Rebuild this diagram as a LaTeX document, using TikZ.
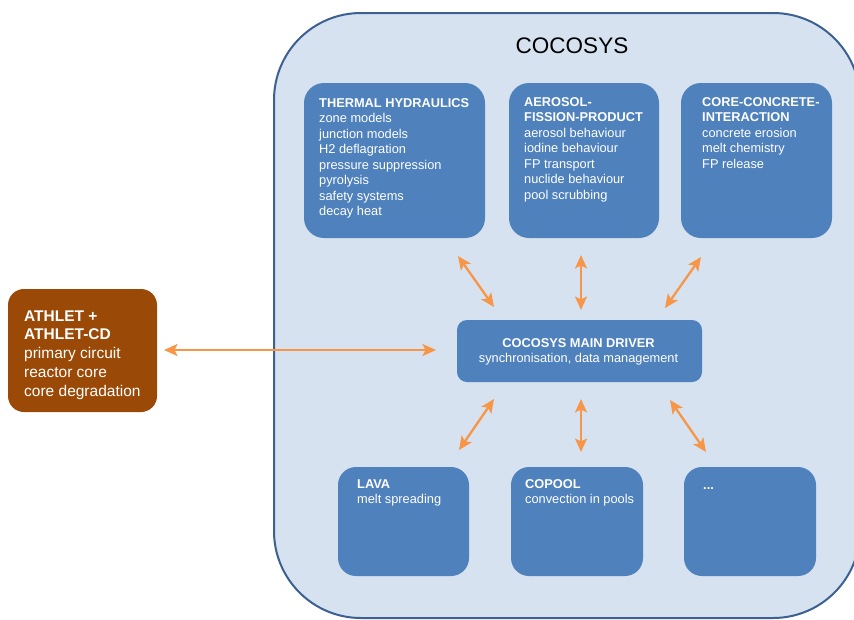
\documentclass[tikz,border=0pt]{standalone}
\usepackage{fontspec}
\setmainfont{Liberation Sans}
\usetikzlibrary{arrows.meta}
\definecolor{bigfill}{RGB}{214,226,240}
\definecolor{bigborder}{RGB}{60,96,146}
\definecolor{boxblue}{RGB}{79,129,189}
\definecolor{athbrown}{RGB}{155,73,6}
\definecolor{arroworange}{RGB}{247,150,70}
\newcommand{\bodyfont}{\fontsize{12.8}{15.5}\selectfont}
\newcommand{\athfont}{\fontsize{15.5}{18.8}\selectfont}
\newcommand{\lines}[1]{\begin{tabular}[t]{@{}l@{}}#1\end{tabular}}
\begin{document}
\begin{tikzpicture}[x=1pt,y=-1pt,
  bigbox/.style={draw=bigborder, line width=2pt, fill=bigfill, rounded corners=87pt, inner sep=0pt},
  bluebox/.style={fill=boxblue, draw=none, rounded corners=20pt, inner sep=0pt},
  athbox/.style={fill=athbrown, draw=none, rounded corners=16pt, inner sep=0pt},
  boxtext/.style={anchor=base west, inner sep=0pt, text=white, font=\bodyfont},
  link/.style={draw=arroworange, line width=2.3pt,
    {Stealth[length=13.5pt,width=12pt,inset=3pt]}-{Stealth[length=13.5pt,width=12pt,inset=3pt]}}
]
\useasboundingbox (0,0) rectangle (854,619);
\clip (0,0) rectangle (854,619);

% outer COCOSYS container
\node[bigbox, minimum width=586pt, minimum height=605pt] (cocosys) at (567,315.5) {};
\node[anchor=base, inner sep=0pt, font=\fontsize{22.5}{27}\selectfont] (title) at (572,53) {COCOSYS};

% upper modules
\node[bluebox, minimum width=181pt, minimum height=155pt] (th) at (394.5,160.5) {};
\node[bluebox, minimum width=150pt, minimum height=155pt] (afp) at (584,160.5) {};
\node[bluebox, minimum width=151pt, minimum height=155pt] (cci) at (756.5,160.5) {};

\node[boxtext] (thtext) at (319,107) {\lines{\textbf{THERMAL HYDRAULICS}\\zone models\\junction models\\H2 deflagration\\pressure suppression\\pyrolysis\\safety systems\\decay heat}};
\node[boxtext] (afptext) at (524,106) {\lines{\textbf{AEROSOL-}\\\textbf{FISSION-PRODUCT}\\aerosol behaviour\\iodine behaviour\\FP transport\\nuclide behaviour\\pool scrubbing}};
\node[boxtext] (ccitext) at (702,106) {\lines{\textbf{CORE-CONCRETE-}\\\textbf{INTERACTION}\\concrete erosion\\melt chemistry\\FP release}};

% main driver
\node[bluebox, rounded corners=10pt, minimum width=245pt, minimum height=62pt] (main) at (579.5,351) {};
\node[anchor=base, inner sep=0pt, text=white, font=\bodyfont] (maintext) at (578.5,347) {\begin{tabular}[t]{@{}c@{}}\textbf{COCOSYS MAIN DRIVER}\\synchronisation, data management\end{tabular}};

% lower modules
\node[bluebox, rounded corners=18pt, minimum width=131pt, minimum height=109pt] (lava) at (403.5,521.5) {};
\node[bluebox, rounded corners=18pt, minimum width=132pt, minimum height=109pt] (copool) at (577,521.5) {};
\node[bluebox, rounded corners=18pt, minimum width=132pt, minimum height=109pt] (more) at (750,521.5) {};

\node[boxtext] (lavatext) at (357,488) {\lines{\textbf{LAVA}\\melt spreading}};
\node[boxtext] (copooltext) at (525,488) {\lines{\textbf{COPOOL}\\convection in pools}};
\node[boxtext] (moretext) at (703,489) {\textbf{...}};

% ATHLET
\node[athbox, minimum width=149pt, minimum height=123pt] (athlet) at (82.5,350.5) {};
\node[anchor=base west, inner sep=0pt, text=white, font=\athfont] (athtext) at (24,321) {\lines{\textbf{ATHLET +}\\\textbf{ATHLET-CD}\\primary circuit\\reactor core\\core degradation}};

% connector end points
\coordinate (athR) at (164,350);
\coordinate (mainL) at (436,350);
\coordinate (thS) at (458,256);
\coordinate (mainTL) at (494,307);
\coordinate (afpS) at (581,255);
\coordinate (mainT) at (581,310);
\coordinate (cciS) at (701,257);
\coordinate (mainTR) at (665,308);
\coordinate (mainBL) at (494,399);
\coordinate (lavaN) at (459,450);
\coordinate (mainB) at (581,399);
\coordinate (copoolN) at (581,452);
\coordinate (mainBR) at (670,400);
\coordinate (moreN) at (706,452);

\draw[link] (athR) -- (mainL);
\draw[link] (thS) -- (mainTL);
\draw[link] (afpS) -- (mainT);
\draw[link] (cciS) -- (mainTR);
\draw[link] (mainBL) -- (lavaN);
\draw[link] (mainB) -- (copoolN);
\draw[link] (mainBR) -- (moreN);
\end{tikzpicture}
\end{document}
